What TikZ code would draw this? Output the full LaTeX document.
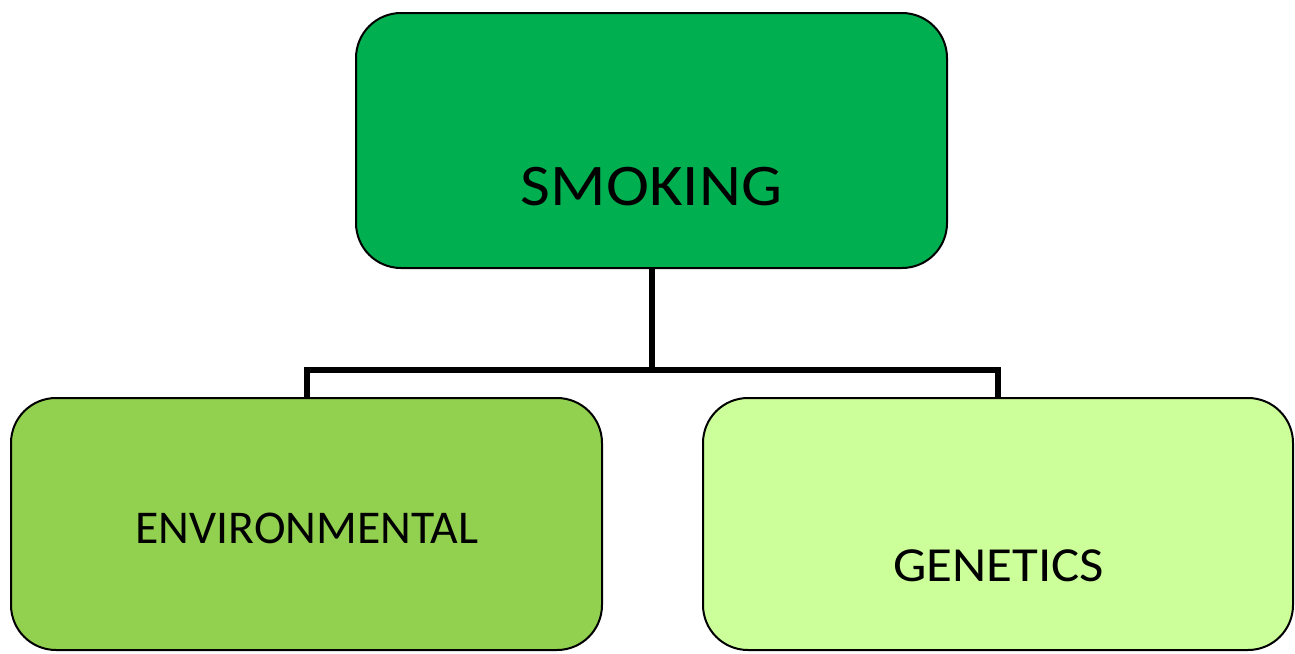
\documentclass[tikz,border=0pt]{standalone}
\usepackage{fontspec}
\setmainfont{Carlito}
\definecolor{smokegreen}{HTML}{00B050}
\definecolor{envgreen}{HTML}{92D050}
\definecolor{genegreen}{HTML}{CCFF99}
\begin{document}
\begin{tikzpicture}[x=1pt, y=-1pt,
    box/.style={draw=black, line width=2pt, rounded corners=45pt, inner sep=0pt},
    link/.style={line width=6pt, line join=miter}]
    \useasboundingbox (0,0) rectangle (1295,653);
    % boxes
    \node[box, fill=smokegreen, minimum width=591pt, minimum height=255pt] (smoking) at (651.5,140.5) {};
    \node[box, fill=envgreen, minimum width=591pt, minimum height=252pt] (env) at (306.5,524) {};
    \node[box, fill=genegreen, minimum width=590pt, minimum height=252pt] (gen) at (998,524) {};
    % labels
    \node[font=\fontsize{59}{60}\selectfont] (smokinglabel) at (651.5,186.5) {\scalebox{1.1}[1]{SMOKING}};
    \node[font=\fontsize{47}{50}\selectfont] (envlabel) at (307,528) {\scalebox{1.015}[1]{ENVIRONMENTAL}};
    \node[font=\fontsize{49}{50}\selectfont] (genlabel) at (998.5,565.5) {\scalebox{1.08}[1]{GENETICS}};
    % connectors
    \coordinate (fork) at (651.5,370);
    \draw[link] (smoking.south) -- (fork);
    \draw[link] (env.north) |- (fork) -| (gen.north);
\end{tikzpicture}
\end{document}
